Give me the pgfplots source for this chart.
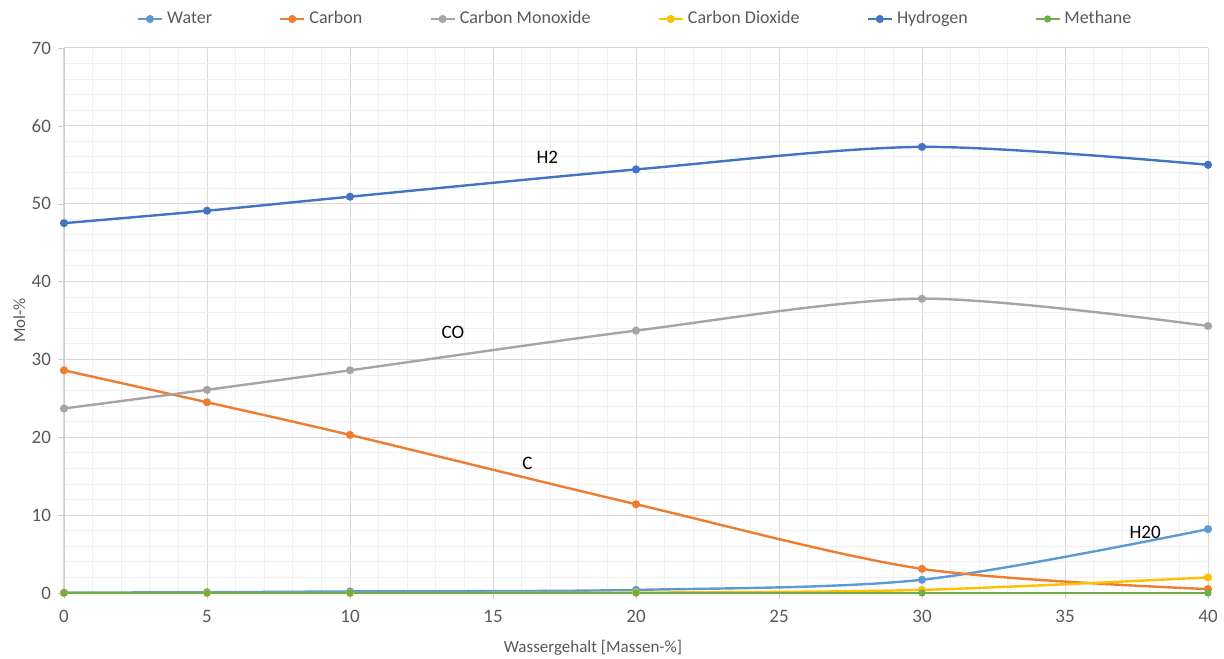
\documentclass[border=0pt]{standalone}
\usepackage{pgfplots}
\pgfplotsset{compat=1.18}
\usepackage{fontspec}
\setmainfont{Carlito}
\definecolor{cWater}{HTML}{5B9BD5}
\definecolor{cCarbon}{HTML}{ED7D31}
\definecolor{cCO}{HTML}{A5A5A5}
\definecolor{cCO2}{HTML}{FFC000}
\definecolor{cH2}{HTML}{4472C4}
\definecolor{cCH4}{HTML}{70AD47}
\definecolor{tickgray}{HTML}{595959}
\begin{document}
\begin{tikzpicture}
\path[use as bounding box] (-32pt,-32.5pt) rectangle (580pt,296.5pt);
\begin{axis}[
  at={(0,0)}, anchor=south west,
  scale only axis, width=572pt, height=272.5pt,
  xmin=0, xmax=40, ymin=0, ymax=70,
  xtick={0,5,...,40}, ytick={0,10,...,70},
  minor x tick num=4, minor y tick num=4,
  grid=both,
  major grid style={draw=black!15, line width=0.5pt},
  minor grid style={draw=black!6, line width=0.5pt},
  axis line style={draw=black!20},
  axis x line*=bottom, axis y line*=left,
  tick style={draw=black!20},
  major tick length=3pt, minor tick length=0pt,
  tick align=outside,
  /pgf/number format/assume math mode=true,
  ticklabel style={font=\fontsize{9.5}{11}\selectfont, text=tickgray},
  xticklabel style={yshift=-2pt},
  xlabel={Wassergehalt [Massen-\%]},
  ylabel={Mol-\%},
  label style={font=\fontsize{8.5}{11}\selectfont, text=tickgray},
  xlabel style={at={(axis description cs:0.4624,-0.1)}, anchor=center},
  ylabel style={at={(axis description cs:-0.039,0.5)}, anchor=center},
  legend columns=6,
  legend style={at={(axis description cs:0.5,1)}, anchor=center, yshift=14.5pt,
    draw=none, fill=none, font=\fontsize{9}{11}\selectfont, text=tickgray,
    /tikz/every even column/.append style={column sep=31.5pt}},
  legend image code/.code={
    \draw[#1, mark=none] (0pt,0pt) -- (12pt,0pt);
    \draw[#1, only marks] plot coordinates {(6pt,0pt)};
  },
  every axis plot/.append style={line width=1.2pt, mark=*, mark size=1.4pt, smooth, tension=0.5},
]
\addplot[color=cWater, mark options={fill=cWater}] coordinates {(0,0.05) (5,0.1) (10,0.2) (20,0.4) (30,1.7) (40,8.2)};
\addlegendentry{Water}
\addplot[color=cCarbon, mark options={fill=cCarbon}] coordinates {(0,28.6) (5,24.5) (10,20.3) (20,11.4) (30,3.1) (40,0.5)};
\addlegendentry{Carbon}
\addplot[color=cCO, mark options={fill=cCO}] coordinates {(0,23.7) (5,26.1) (10,28.6) (20,33.7) (30,37.8) (40,34.3)};
\addlegendentry{Carbon Monoxide}
\addplot[color=cCO2, mark options={fill=cCO2}] coordinates {(0,0) (5,0) (10,0) (20,0.05) (30,0.4) (40,2.0)};
\addlegendentry{Carbon Dioxide}
\addplot[color=cH2, mark options={fill=cH2}] coordinates {(0,47.5) (5,49.1) (10,50.9) (20,54.4) (30,57.3) (40,55.0)};
\addlegendentry{Hydrogen}
\addplot[color=cCH4, mark options={fill=cCH4}, line width=0.8pt] coordinates {(0,0) (5,0) (10,0) (20,0) (30,0) (40,0)};
\addlegendentry{Methane}
\node[font=\fontsize{9.5}{11}\selectfont] at (axis cs:16.9,56.0) {H2};
\node[font=\fontsize{9.5}{11}\selectfont] at (axis cs:13.6,33.5) {CO};
\node[font=\fontsize{9.5}{11}\selectfont] at (axis cs:16.2,16.7) {C};
\node[font=\fontsize{9.5}{11}\selectfont] at (axis cs:37.8,7.8) {H20};
\end{axis}
\end{tikzpicture}
\end{document}
